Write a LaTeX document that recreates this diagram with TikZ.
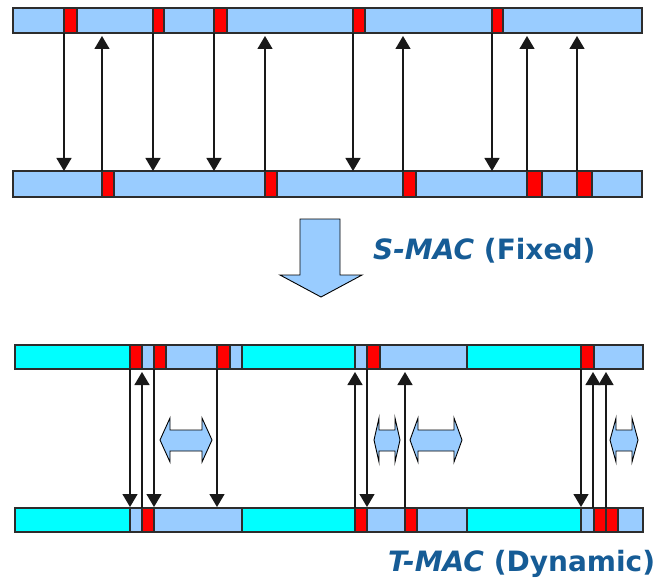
\documentclass[tikz,border=0pt]{standalone}
\usepackage{fontspec}
\setmainfont{DejaVu Sans}
\usetikzlibrary{arrows.meta}
\definecolor{lb}{RGB}{153,204,255}
\definecolor{cy}{RGB}{0,255,255}
\definecolor{rd}{RGB}{255,0,0}
\definecolor{txt}{RGB}{22,92,150}
\definecolor{edge}{RGB}{45,45,45}
\tikzset{
  seg/.style={draw=edge, line width=1.2pt},
  sig/.style={draw=black!90, line width=1.3pt, -{Triangle[width=15pt,length=13pt]}},
  blk/.style={fill=lb, draw=black, line width=0.9pt, line join=miter},
  lbl/.style={text=txt, font=\fontsize{28}{34}\selectfont\bfseries, anchor=base west, inner sep=0pt}
}
\newcommand{\seg}[5]{\filldraw[seg, fill=#5] (#1,#3) rectangle (#2,#4);}
\newcommand{\dbl}[3]{\filldraw[blk] (#1,440) -- ({#1+#3},418) -- ({#1+#3},430) -- ({#2-#3},430) -- ({#2-#3},418) -- (#2,440) -- ({#2-#3},462) -- ({#2-#3},451) -- ({#1+#3},451) -- ({#1+#3},462) -- cycle;}
\begin{document}
\begin{tikzpicture}[x=1pt,y=-1pt]
\fill[white] (0,0) rectangle (663,580);
\useasboundingbox (0,0) rectangle (663,580);
% ---------- S-MAC ----------
\seg{13}{642}{8}{33}{lb}
\seg{64}{77}{8}{33}{rd}
\seg{153}{164}{8}{33}{rd}
\seg{214}{227}{8}{33}{rd}
\seg{353}{365}{8}{33}{rd}
\seg{492}{503}{8}{33}{rd}
\seg{13}{642}{171}{197}{lb}
\seg{102}{114}{171}{197}{rd}
\seg{265}{277}{171}{197}{rd}
\seg{403}{416}{171}{197}{rd}
\seg{527}{542}{171}{197}{rd}
\seg{577}{592}{171}{197}{rd}
\foreach \x in {64,153,214,353,492} {\draw[sig] (\x,33) -- (\x,171);}
\foreach \x in {102,265,403,527,577} {\draw[sig] (\x,171) -- (\x,36);}
% big arrow and label
\filldraw[blk] (300,219) -- (340,219) -- (340,275) -- (362,275) -- (321,297) -- (280,275) -- (300,275) -- cycle;
\node[lbl] (smac) at (373,259) {\itshape S-MAC\/\upshape\ (Fixed)};
% ---------- T-MAC ----------
\seg{15}{130}{345}{369}{cy}
\seg{130}{142}{345}{369}{rd}
\seg{142}{154}{345}{369}{lb}
\seg{154}{166}{345}{369}{rd}
\seg{166}{217}{345}{369}{lb}
\seg{217}{230}{345}{369}{rd}
\seg{230}{242}{345}{369}{lb}
\seg{242}{355}{345}{369}{cy}
\seg{355}{367}{345}{369}{lb}
\seg{367}{380}{345}{369}{rd}
\seg{380}{467}{345}{369}{lb}
\seg{467}{581}{345}{369}{cy}
\seg{581}{594}{345}{369}{rd}
\seg{594}{643}{345}{369}{lb}
\seg{15}{130}{508}{532}{cy}
\seg{130}{142}{508}{532}{lb}
\seg{142}{154}{508}{532}{rd}
\seg{154}{242}{508}{532}{lb}
\seg{242}{355}{508}{532}{cy}
\seg{355}{367}{508}{532}{rd}
\seg{367}{405}{508}{532}{lb}
\seg{405}{417}{508}{532}{rd}
\seg{417}{467}{508}{532}{lb}
\seg{467}{581}{508}{532}{cy}
\seg{581}{594}{508}{532}{lb}
\seg{594}{606}{508}{532}{rd}
\seg{606}{618}{508}{532}{rd}
\seg{618}{643}{508}{532}{lb}
\foreach \x in {130,154,217,367,581} {\draw[sig] (\x,369) -- (\x,507);}
\foreach \x in {142,355,405,593,606} {\draw[sig] (\x,508) -- (\x,372);}
\dbl{160}{212}{10}
\dbl{374}{400}{5}
\dbl{410}{462}{8}
\dbl{610}{638}{6}
\node[lbl] (tmac) at (388,571) {\itshape T-MAC\/\upshape\ (Dynamic)};
\end{tikzpicture}
\end{document}
